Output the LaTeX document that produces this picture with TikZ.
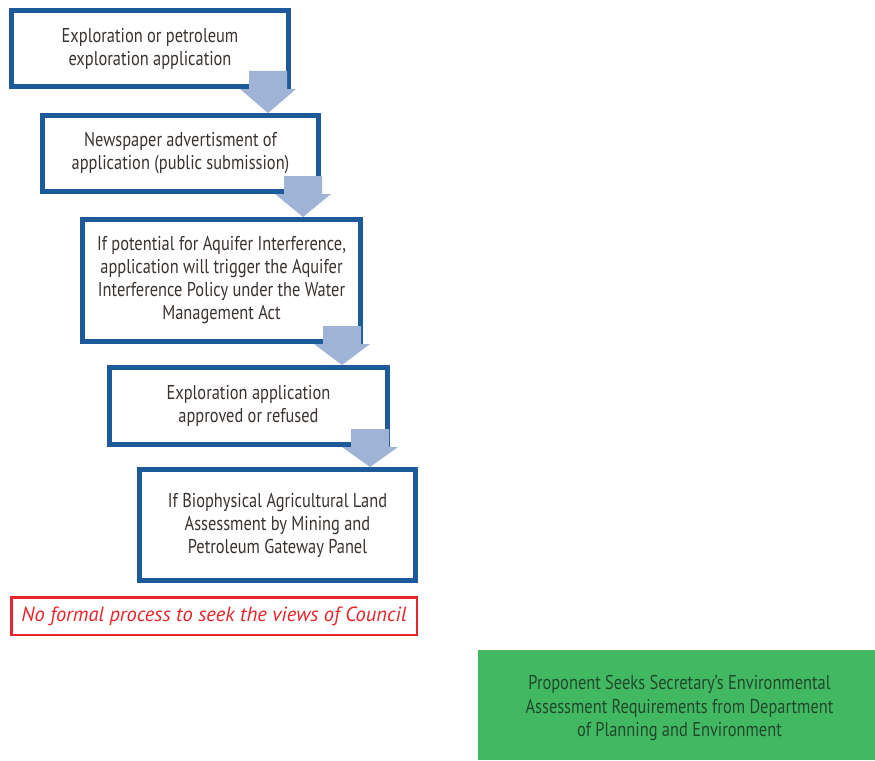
\documentclass[tikz,border=0pt]{standalone}
\usepackage{fontspec}
\setmainfont{PT Sans}
\newfontfamily\boxfont[FakeStretch=0.82]{PT Sans}
\newfontfamily\notefont{PT Sans}
\usetikzlibrary{calc}
\definecolor{boxblue}{HTML}{1C5A99}
\definecolor{arrowc}{HTML}{9FB3D6}
\definecolor{txt}{HTML}{3A3330}
\definecolor{redc}{HTML}{E8262A}
\definecolor{greenc}{HTML}{43B862}
\definecolor{greentxt}{HTML}{1F4A2A}
\newcommand\flowarrow[3]{%
  \coordinate (c#1) at ($(#1.south east)+(-#3,0)$);
  \coordinate (t#1) at (c#1 |- #2.north);
  \fill[arrowc] ($(c#1)+(-19,-18)$) -- ($(c#1)+(19,-18)$) -- ($(c#1)+(19,0)$)
    -- ($(c#1)+(28,0)$) -- (t#1) -- ($(c#1)+(-28,0)$) -- ($(c#1)+(-19,0)$) -- cycle;}
\begin{document}
\begin{tikzpicture}[x=1pt,y=-1pt,
  stepbox/.style={draw=boxblue, line width=5pt, fill=white, align=center, text=txt,
    font=\boxfont\fontsize{20}{23}\selectfont, inner sep=0pt},
  notebox/.style={draw=redc, line width=2.5pt, fill=white, align=center, text=redc,
    font=\notefont\itshape\fontsize{20.5}{23}\selectfont, inner sep=0pt},
  greenbox/.style={fill=greenc, align=center, text=greentxt,
    font=\boxfont\fontsize{20}{23.5}\selectfont, inner sep=0pt}]
\useasboundingbox (0,0) rectangle (875,760);
\node[stepbox, minimum width=277, minimum height=76] (b1) at (150,48.5)
  {Exploration or petroleum\\exploration application};
\node[stepbox, minimum width=276, minimum height=76] (b2) at (180.5,153.5)
  {Newspaper advertisment of\\application (public submission)};
\node[stepbox, minimum width=278, minimum height=122] (b3) at (221.5,280.5)
  {If potential for Aquifer Interference,\\application will trigger the Aquifer\\Interference Policy under the Water\\Management Act};
\node[stepbox, minimum width=278, minimum height=77] (b4) at (248.5,406)
  {Exploration application\\approved or refused};
\node[stepbox, minimum width=276, minimum height=111] (b5) at (277.5,525)
  {If Biophysical Agricultural Land\\Assessment by Mining and\\Petroleum Gateway Panel};
\node[notebox, minimum width=405.5, minimum height=37.5] (n1) at (214,616)
  {No formal process to seek the views of Council};
\node[fill=greenc, minimum width=397, minimum height=110, inner sep=0pt] (g1) at (676.5,705) {};
\node[greenbox] (g1t) at ($(g1.center)+(3,3)$)
  {Proponent Seeks Secretary’s Environmental\\Assessment Requirements from Department\\of Planning and Environment};
\flowarrow{b1}{b2}{23}
\flowarrow{b2}{b3}{18}
\flowarrow{b3}{b4}{21}
\flowarrow{b4}{b5}{20}
\end{tikzpicture}
\end{document}
